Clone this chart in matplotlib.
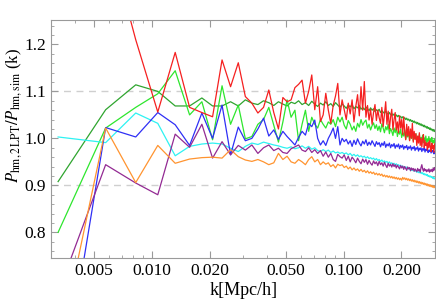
import matplotlib
matplotlib.use("Agg")
import matplotlib.pyplot as plt
import numpy as np
from matplotlib.ticker import FixedLocator, FixedFormatter, MultipleLocator

plt.rcParams['font.family'] = 'serif'
plt.rcParams['font.serif'] = ['Liberation Serif', 'DejaVu Serif']
plt.rcParams['mathtext.fontset'] = 'stix'

# k bins: first shell, then bins of width kf (L = 2500 Mpc/h)
kf = 0.0025
k = kf * np.r_[1.3, np.arange(2.3, 120.5, 1.0)]

dark_green = [0.908, 1.061, 1.114, 1.100, 1.069, 1.069, 1.086, 1.069, 1.069, 1.078,
              1.069, 1.082, 1.075, 1.072, 1.080, 1.076, 1.070, 1.078, 1.073, 1.069,
              1.077, 1.074, 1.080, 1.072, 1.076, 1.070, 1.079, 1.073, 1.068, 1.075,
              1.071, 1.078, 1.070, 1.074, 1.068, 1.076, 1.071, 1.066, 1.073, 1.069,
              1.064, 1.071, 1.067, 1.072, 1.063, 1.068, 1.065, 1.070, 1.062, 1.066,
              1.061, 1.067, 1.063, 1.059, 1.065, 1.060, 1.063, 1.057, 1.061, 1.058,
              1.062, 1.055, 1.059, 1.056, 1.053, 1.058, 1.054, 1.051, 1.055, 1.050,
              1.053, 1.049, 1.052, 1.047, 1.050, 1.046, 1.049, 1.045, 1.047, 1.043,
              1.046, 1.042, 1.044, 1.040, 1.043, 1.039, 1.041, 1.037, 1.040, 1.036,
              1.038, 1.034, 1.037, 1.033, 1.035, 1.031, 1.034, 1.030, 1.032, 1.028,
              1.031, 1.027, 1.029, 1.025, 1.028, 1.024, 1.026, 1.022, 1.025, 1.021,
              1.023, 1.019, 1.022, 1.018, 1.020, 1.016, 1.019, 1.015, 1.017, 1.014]

light_green = [0.800, 1.022, 1.066, 1.095, 1.144, 1.050, 1.078, 0.997, 1.112, 1.030,
               1.071, 0.999, 1.004, 1.030, 1.040, 1.066, 1.028, 0.992, 1.035, 1.082,
               1.045, 1.060, 0.995, 1.030, 1.060, 1.015, 1.045, 1.030, 1.022, 1.040,
               1.030, 1.022, 1.035, 1.030, 1.040, 1.025, 1.045, 1.035, 1.045, 1.028,
               1.020, 1.038, 1.030, 1.018, 1.026, 1.015, 1.032, 1.024, 1.040, 1.028,
               1.035, 1.039, 1.022, 1.030, 1.018, 1.027, 1.033, 1.021, 1.029, 1.017,
               1.026, 1.014, 1.031, 1.022, 1.012, 1.025, 1.018, 1.030, 1.010, 1.021,
               1.015, 1.006, 1.022, 1.012, 1.024, 1.004, 1.016, 1.009, 1.020, 1.002,
               1.012, 1.005, 1.018, 0.998, 1.010, 1.003, 1.015, 0.996, 1.008, 1.001,
               1.012, 0.995, 1.006, 0.999, 1.010, 0.993, 1.004, 0.997, 1.008, 0.992,
               1.002, 0.996, 1.007, 0.991, 1.001, 0.995, 1.005, 0.990, 0.999, 0.994,
               1.004, 0.989, 0.998, 0.993, 1.002, 0.988, 0.996, 0.991, 0.999, 0.986]

red = [1.800, 1.450, 1.210, 1.056, 1.183, 1.066, 1.055, 1.046, 1.167, 1.110,
       1.161, 1.089, 1.075, 1.054, 1.066, 1.103, 1.055, 1.020, 1.087, 1.078,
       1.082, 1.108, 1.115, 1.124, 1.075, 1.100, 1.135, 1.061, 1.110, 1.036,
       1.050, 1.096, 1.060, 1.032, 1.070, 1.090, 1.117, 1.050, 1.082, 1.061,
       1.040, 1.075, 1.052, 1.082, 1.035, 1.068, 1.093, 1.048, 1.110, 1.060,
       1.121, 1.045, 1.070, 1.039, 1.062, 1.030, 1.055, 1.072, 1.038, 1.060,
       1.044, 1.032, 1.066, 1.025, 1.050, 1.078, 1.030, 1.058, 1.020, 1.045,
       1.062, 1.018, 1.040, 1.055, 1.018, 1.035, 1.012, 1.048, 1.022, 1.040,
       1.008, 1.046, 1.015, 0.997, 1.030, 1.005, 1.025, 0.995, 1.020, 1.000,
       1.032, 0.992, 1.015, 0.998, 1.010, 0.985, 1.005, 0.990, 1.012, 0.985,
       1.000, 0.982, 0.998, 1.008, 0.980, 0.995, 0.985, 0.990, 0.975, 0.992,
       0.980, 0.995, 0.983, 0.972, 0.990, 0.978, 0.985, 0.970, 0.988, 0.990]

blue = [0.410, 1.023, 1.003, 1.055, 1.029, 0.985, 1.054, 1.000, 1.071, 0.965,
        1.024, 0.995, 1.000, 1.020, 1.043, 1.005, 1.018, 0.998, 1.015, 1.004,
        0.995, 0.986, 1.002, 1.015, 1.007, 1.032, 1.025, 1.039, 1.000, 0.986,
        0.995, 0.985, 1.000, 1.010, 1.022, 1.000, 1.025, 0.986, 1.000, 0.993,
        0.998, 0.988, 0.995, 0.983, 0.996, 0.987, 0.999, 0.990, 0.984, 0.994,
        0.988, 0.997, 0.985, 0.992, 0.986, 0.995, 0.989, 0.983, 0.993, 0.987,
        0.991, 0.982, 0.990, 0.985, 0.993, 0.981, 0.988, 0.984, 0.990, 0.980,
        0.987, 0.983, 0.989, 0.979, 0.986, 0.982, 0.988, 0.978, 0.985, 0.981,
        0.986, 0.977, 0.983, 0.980, 0.985, 0.976, 0.982, 0.979, 0.984, 0.975,
        0.981, 0.978, 0.983, 0.974, 0.980, 0.977, 0.982, 0.973, 0.979, 0.976,
        0.980, 0.972, 0.978, 0.975, 0.979, 0.971, 0.977, 0.974, 0.978, 0.970,
        0.975, 0.972, 0.976, 0.969, 0.974, 0.971, 0.975, 0.967, 0.972, 0.968]

cyan = [1.003, 0.991, 1.054, 1.032, 0.963, 0.983, 0.988, 0.990, 0.988, 0.979,
        0.972, 0.983, 0.990, 0.987, 0.992, 0.989, 0.986, 0.984, 0.981, 0.979,
        0.982, 0.978, 0.980, 0.984, 0.979, 0.983, 0.977, 0.980, 0.974, 0.972,
        0.976, 0.972, 0.975, 0.970, 0.973, 0.969, 0.971, 0.968, 0.970, 0.967,
        0.969, 0.965, 0.968, 0.963, 0.966, 0.962, 0.965, 0.961, 0.963, 0.960,
        0.962, 0.958, 0.961, 0.957, 0.959, 0.956, 0.958, 0.954, 0.957, 0.953,
        0.955, 0.951, 0.954, 0.950, 0.952, 0.949, 0.951, 0.947, 0.950, 0.946,
        0.948, 0.945, 0.947, 0.943, 0.946, 0.942, 0.944, 0.941, 0.943, 0.939,
        0.941, 0.938, 0.940, 0.936, 0.939, 0.935, 0.937, 0.934, 0.936, 0.932,
        0.934, 0.931, 0.933, 0.930, 0.932, 0.928, 0.930, 0.927, 0.929, 0.926,
        0.928, 0.925, 0.927, 0.923, 0.925, 0.922, 0.924, 0.921, 0.923, 0.919,
        0.921, 0.918, 0.920, 0.917, 0.919, 0.915, 0.917, 0.914, 0.916, 0.913]

purple = [0.671, 0.944, 0.905, 0.880, 1.009, 0.981, 1.030, 0.958, 0.993, 0.965,
          0.985, 0.975, 0.986, 0.968, 0.980, 0.986, 0.974, 0.979, 0.970, 0.968,
          0.978, 0.982, 0.986, 0.975, 0.972, 0.980, 0.970, 0.976, 0.968, 0.974,
          0.962, 0.971, 0.960, 0.968, 0.955, 0.951, 0.966, 0.961, 0.958, 0.965,
          0.953, 0.962, 0.950, 0.960, 0.955, 0.948, 0.958, 0.951, 0.946, 0.956,
          0.949, 0.955, 0.945, 0.953, 0.947, 0.943, 0.952, 0.946, 0.950, 0.942,
          0.951, 0.944, 0.948, 0.941, 0.949, 0.943, 0.938, 0.947, 0.941, 0.945,
          0.939, 0.946, 0.940, 0.944, 0.937, 0.943, 0.939, 0.935, 0.942, 0.937,
          0.941, 0.934, 0.940, 0.936, 0.932, 0.939, 0.935, 0.938, 0.931, 0.937,
          0.933, 0.936, 0.930, 0.935, 0.932, 0.929, 0.936, 0.931, 0.934, 0.928,
          0.938, 0.944, 0.935, 0.930, 0.936, 0.931, 0.934, 0.929, 0.933, 0.930,
          0.935, 0.928, 0.933, 0.930, 0.934, 0.929, 0.936, 0.932, 0.938, 0.937]

orange = [0.542, 1.022, 0.906, 0.985, 0.947, 0.956, 0.959, 0.960, 0.958, 0.976,
          0.961, 0.954, 0.951, 0.955, 0.950, 0.944, 0.948, 0.968, 0.955, 0.962,
          0.950, 0.947, 0.955, 0.950, 0.944, 0.955, 0.961, 0.950, 0.955, 0.944,
          0.950, 0.945, 0.948, 0.940, 0.944, 0.937, 0.945, 0.942, 0.944, 0.938,
          0.941, 0.935, 0.939, 0.933, 0.937, 0.932, 0.935, 0.930, 0.934, 0.929,
          0.932, 0.927, 0.931, 0.926, 0.929, 0.925, 0.928, 0.923, 0.926, 0.922,
          0.925, 0.921, 0.924, 0.919, 0.922, 0.918, 0.921, 0.917, 0.920, 0.916,
          0.919, 0.915, 0.918, 0.914, 0.917, 0.913, 0.916, 0.912, 0.915, 0.911,
          0.917, 0.913, 0.916, 0.912, 0.915, 0.911, 0.914, 0.910, 0.913, 0.909,
          0.912, 0.908, 0.911, 0.907, 0.910, 0.906, 0.909, 0.905, 0.908, 0.904,
          0.907, 0.903, 0.906, 0.902, 0.905, 0.901, 0.904, 0.900, 0.903, 0.899,
          0.902, 0.898, 0.901, 0.897, 0.900, 0.896, 0.899, 0.895, 0.898, 0.895]

series = [
    (dark_green, '#2fa52f'),
    (light_green, '#2ee62e'),
    (cyan, '#2ef2f2'),
    (blue, '#2f2ff5'),
    (purple, '#932a93'),
    (orange, '#ff9430'),
    (red, '#f52020'),
]

xticks = [0.005, 0.01, 0.02, 0.05, 0.1, 0.2]
xticklabels = ['0.005', '0.010', '0.020', '0.050', '0.100', '0.200']
xminor = [0.003, 0.004, 0.006, 0.007, 0.008, 0.009,
          0.03, 0.04, 0.06, 0.07, 0.08, 0.09, 0.3]
yticks = [0.8, 0.9, 1.0, 1.1, 1.2]

fig = plt.figure(figsize=(4.36, 3.03), dpi=100)
ax = fig.add_axes([0.118, 0.1495, 0.880, 0.7845])

for vals, col in series:
    ax.plot(k, vals, color=col, lw=0.9)

for yv in (0.9, 1.1):
    ax.axhline(yv, color='#cfcfcf', lw=1.0, ls=(0, (5, 4)), zorder=0)

ax.set_xscale('log')
ax.set_xlim(0.003, 0.3)
ax.set_ylim(0.746, 1.252)

ax.xaxis.set_major_locator(FixedLocator(xticks))
ax.xaxis.set_major_formatter(FixedFormatter(xticklabels))
ax.xaxis.set_minor_locator(FixedLocator(xminor))
ax.xaxis.set_minor_formatter(FixedFormatter([''] * len(xminor)))
ax.yaxis.set_major_locator(FixedLocator(yticks))
ax.set_yticklabels(['0.8', '0.9', '1.0', '1.1', '1.2'])
ax.yaxis.set_minor_locator(MultipleLocator(0.02))

for sp in ax.spines.values():
    sp.set_color('#9a9a9a')
    sp.set_linewidth(0.8)
ax.tick_params(which='both', direction='in', top=True, right=True,
               color='#9a9a9a', labelsize=12.5)
ax.tick_params(which='major', length=5, width=0.8, pad=4)
ax.tick_params(which='minor', length=2.5, width=0.6)

ax.set_xlabel('k[Mpc/h]', fontsize=13, labelpad=2)
ax.set_ylabel(r'$P_{\rm hm,2\,LPT}/P_{\rm hm,sim}$ (k)', fontsize=12)
ax.yaxis.set_label_coords(-0.072, 0.60)

fig.savefig('out.png', dpi=100)
